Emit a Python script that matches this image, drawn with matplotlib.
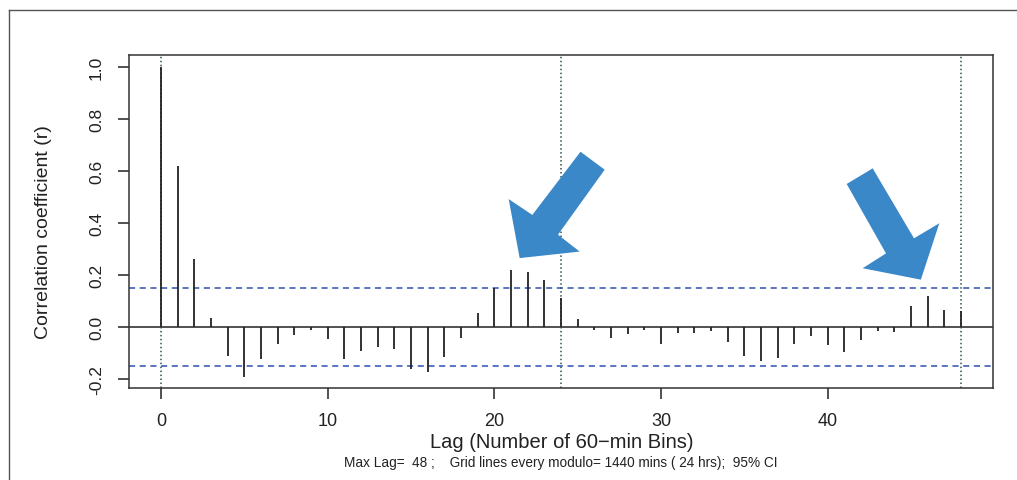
import matplotlib
matplotlib.use("Agg")
import matplotlib.pyplot as plt
from matplotlib.lines import Line2D
from matplotlib.patches import Polygon

plt.rcParams['font.family'] = ['Liberation Sans', 'DejaVu Sans']

# ---- data ----
lags = list(range(0, 49))
acf = [1.0, 0.62, 0.263, 0.033, -0.11, -0.192, -0.122, -0.066, -0.029, -0.013,
       -0.047, -0.122, -0.091, -0.077, -0.084, -0.16, -0.173, -0.115, -0.044, 0.052,
       0.149, 0.22, 0.212, 0.179, 0.111, 0.03, -0.01, -0.042, -0.027, -0.01,
       -0.064, -0.022, -0.024, -0.016, -0.059, -0.113, -0.132, -0.118, -0.064, -0.033,
       -0.069, -0.095, -0.05, -0.015, -0.019, 0.08, 0.12, 0.064, 0.06]
ci = 0.15
grid_lags = [0, 24, 48]
xticks = [0, 10, 20, 30, 40]
yticks = [-0.2, 0.0, 0.2, 0.4, 0.6, 0.8, 1.0]
ytick_labels = ["-0.2", "0.0", "0.2", "0.4", "0.6", "0.8", "1.0"]
xlabel = "Lag (Number of 60\u2212min Bins)"
ylabel = "Correlation coefficient (r)"
subtitle = "Max Lag=  48 ;    Grid lines every modulo= 1440 mins ( 24 hrs);  95% CI"

# annotation arrows (data coordinates)
arrow1 = [(25.17, 0.674), (26.62, 0.605), (23.82, 0.355), (25.12, 0.290),
          (21.52, 0.265), (20.86, 0.492), (22.28, 0.431)]
arrow2 = [(41.14, 0.55), (42.70, 0.610), (45.18, 0.341), (46.70, 0.399),
          (45.59, 0.182), (42.10, 0.226), (43.50, 0.283)]

W, H = 1017, 481
fig = plt.figure(figsize=(W / 100, H / 100), dpi=100)
fig.patch.set_facecolor('white')

# outer frame (partial, as in the screenshot)
fig.add_artist(Line2D([9 / W, 9 / W], [0, 1 - 11 / H], color='#555555', lw=1.0))
fig.add_artist(Line2D([9 / W, 1], [1 - 11 / H, 1 - 11 / H], color='#555555', lw=1.0))

left, right, top, bottom = 129, 993, 56, 389
ax = fig.add_axes([left / W, (H - bottom) / H, (right - left) / W, (bottom - top) / H])
ax.set_xlim(-1.92, 49.92)
ax.set_ylim(-0.2346, 1.046)

for s in ax.spines.values():
    s.set_color('#333333')
    s.set_linewidth(1.1)

# zero line
ax.axhline(0, color='#333333', lw=1.2, zorder=2)
# CI lines
for v in (ci, -ci):
    ax.axhline(v, color='#2f4fb0', lw=1.1, ls=(0, (4, 3)), zorder=2)
# grid lines every 24 lags
for g in grid_lags:
    ax.axvline(g, color='#2f4f4f', lw=1.1, ls=(0, (1, 1.6)), zorder=2)
# spikes
ax.vlines(lags, 0, acf, color='#222222', lw=1.3, zorder=3)

for pts in (arrow1, arrow2):
    ax.add_patch(Polygon(pts, closed=True, facecolor='#3b88c9', edgecolor='none',
                         zorder=4, clip_on=False))

ax.set_xticks(xticks)
ax.set_xticklabels([str(t) for t in xticks])
ax.set_yticks(yticks)
ax.set_yticklabels(ytick_labels, rotation=90, va='center')
ax.tick_params(axis='x', length=8, width=1.1, pad=9.5, labelsize=13, colors='#222222')
ax.tick_params(axis='y', length=8, width=1.1, pad=10, labelsize=12.5, colors='#222222')

fig.text(44 / W, 1 - 232 / H, ylabel, rotation=90, ha='center', va='center',
         fontsize=14, color='#222222')
fig.text(562 / W, 1 - 443 / H, xlabel, ha='center', va='center', fontsize=14.5,
         color='#222222')
fig.text(561 / W, 1 - 463 / H, subtitle, ha='center', va='center', fontsize=9.8,
         color='#222222')

fig.savefig('out.png', dpi=100)
